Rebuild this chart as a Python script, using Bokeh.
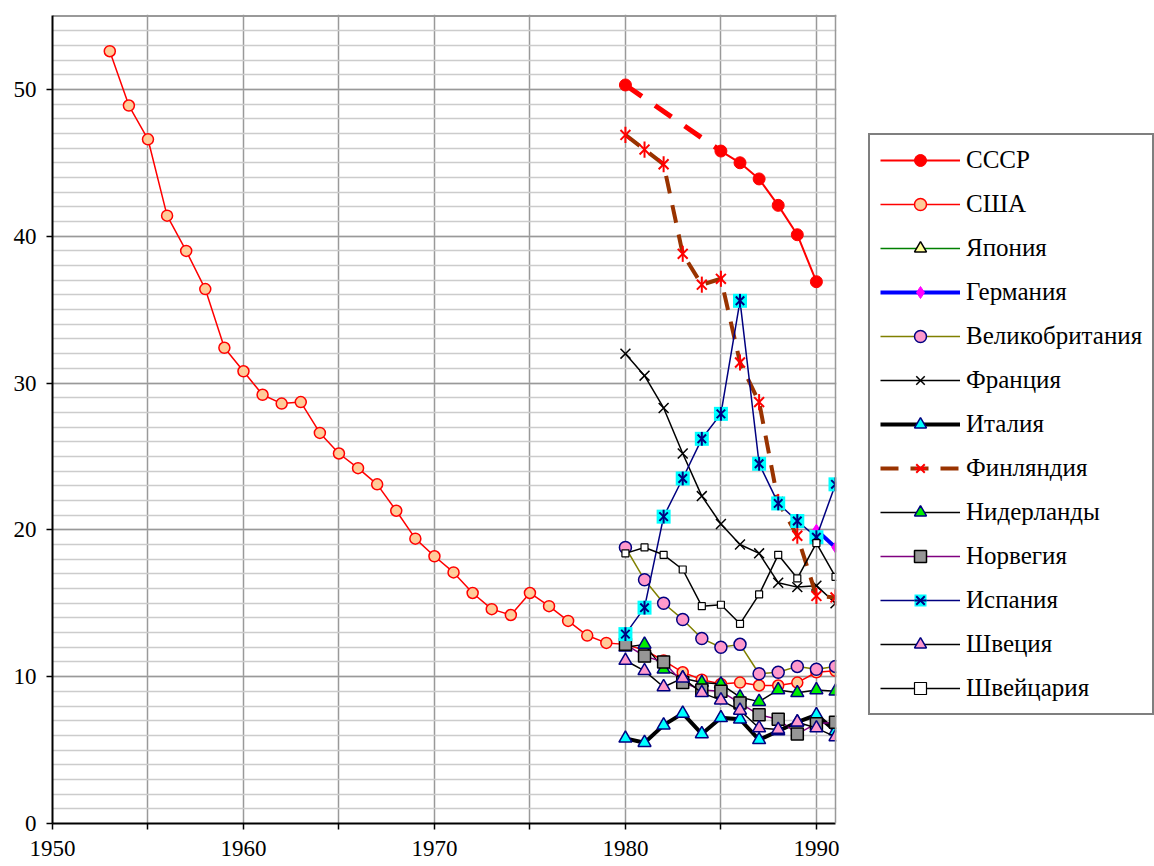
import math
from bokeh.plotting import figure
from bokeh.models import (Legend, LegendItem, FixedTicker, ColumnDataSource, Range1d,
                          BoxAnnotation, Span)
from bokeh.embed import file_html
from bokeh.resources import INLINE

# ---------------- data ----------------
years_usa = [1953, 1954, 1955, 1956, 1957, 1958, 1959, 1960, 1961, 1962, 1963, 1964,
             1965, 1966, 1967, 1968, 1969, 1970, 1971, 1972, 1973, 1974, 1975, 1976,
             1977, 1978, 1979, 1980, 1981, 1982, 1983, 1984, 1985, 1986, 1987, 1988,
             1989, 1990, 1991]
usa = [52.6, 48.9, 46.6, 41.4, 39.0, 36.4, 32.4, 30.8, 29.2, 28.6, 28.7, 26.6,
       25.2, 24.2, 23.1, 21.3, 19.4, 18.2, 17.1, 15.7, 14.6, 14.2, 15.7, 14.8,
       13.8, 12.8, 12.3, 12.2, 11.8, 11.1, 10.3, 9.8, 9.5, 9.6, 9.4, 9.4,
       9.6, 10.3, 10.4]

years_ussr = [1980, 1985, 1986, 1987, 1988, 1989, 1990]
ussr = [50.3, 45.8, 45.0, 43.9, 42.1, 40.1, 36.9]

years_80 = [1980, 1981, 1982, 1983, 1984, 1985, 1986, 1987, 1988, 1989, 1990, 1991]
japan_years = [float("nan")]   # no visible data points for Japan in the chart
japan = [float("nan")]
years_germany = [1990, 1991]
germany = [20.0, 18.8]
uk = [18.8, 16.6, 15.0, 13.9, 12.6, 12.0, 12.2, 10.2, 10.3, 10.7, 10.5, 10.7]
france = [32.0, 30.5, 28.3, 25.2, 22.3, 20.4, 19.0, 18.4, 16.4, 16.1, 16.2, 15.0]
italy = [5.8, 5.5, 6.7, 7.5, 6.1, 7.2, 7.1, 5.7, 6.3, 6.9, 7.4, 6.3]
finland = [46.9, 45.9, 44.9, 38.8, 36.7, 37.1, 31.4, 28.7, 21.9, 19.6, 15.5, 15.4]
netherlands = [12.0, 12.2, 10.5, 9.9, 9.6, 9.5, 8.6, 8.3, 9.1, 8.9, 9.1, 9.0]
norway = [12.2, 11.4, 11.0, 9.6, 9.1, 9.0, 8.2, 7.4, 7.1, 6.1, 6.8, 6.9]
spain = [12.9, 14.7, 20.9, 23.5, 26.2, 27.9, 35.6, 24.5, 21.8, 20.6, 19.5, 23.1]
sweden = [11.1, 10.4, 9.3, 9.9, 8.9, 8.4, 7.7, 6.5, 6.4, 6.9, 6.5, 5.9]
switzerland = [18.4, 18.8, 18.3, 17.3, 14.8, 14.9, 13.6, 15.6, 18.3, 16.7, 19.1, 16.8]

x_ticks = [1950, 1955, 1960, 1965, 1970, 1975, 1980, 1985, 1990]
x_labels = {1950: "1950", 1955: "", 1960: "1960", 1965: "", 1970: "1970",
            1975: "", 1980: "1980", 1985: "", 1990: "1990"}
y_ticks = [0, 10, 20, 30, 40, 50]
y_minor = list(range(0, 55))
x_start, x_end, y_end = 1950, 1991, 55

names = ["СССР", "США", "Япония", "Германия", "Великобритания", "Франция", "Италия",
         "Финляндия", "Нидерланды", "Норвегия", "Испания", "Швеция", "Швейцария"]

# ---------------- figure ----------------
FONT = "Liberation Serif"
W, H = 1154, 866
LEFT, TOP, BOTTOM = 52, 14, 43
plot_right_px = 835
px_per_year = (plot_right_px - LEFT) / (x_end - x_start)
x_view_end = x_start + (W - LEFT) / px_per_year
y_view_end = y_end + 0.1   # tiny headroom so the top border lies inside the frame

p = figure(width=W, height=H, output_backend="svg", toolbar_location=None,
           x_range=Range1d(x_start, x_view_end), y_range=Range1d(0, y_view_end),
           min_border_left=LEFT, min_border_right=0, min_border_top=TOP,
           min_border_bottom=BOTTOM)
p.background_fill_color = "white"
p.border_fill_color = "white"
p.outline_line_color = None

p.xaxis.ticker = FixedTicker(ticks=x_ticks)
p.xaxis.major_label_overrides = x_labels
p.xaxis.bounds = (x_start, x_end)
p.yaxis.ticker = FixedTicker(ticks=y_ticks, minor_ticks=y_minor)
p.yaxis.bounds = (0, y_end)
for ax in (p.xaxis, p.yaxis):
    ax.axis_line_color = "black"
    ax.axis_line_width = 2
    ax.major_tick_line_color = "black"
    ax.major_tick_line_width = 1.5
    ax.major_tick_out = 6
    ax.major_tick_in = 0
    ax.minor_tick_line_color = None
    ax.major_label_text_font = FONT
    ax.major_label_text_font_size = "23px"
    ax.major_label_text_color = "black"
p.xaxis.major_label_standoff = 11
p.yaxis.major_label_standoff = 10

p.xgrid.grid_line_color = "#999999"
p.xgrid.grid_line_width = 1.5
p.ygrid.grid_line_color = "#999999"
p.ygrid.grid_line_width = 1.5
p.ygrid.minor_grid_line_color = "#cccccc"
p.ygrid.minor_grid_line_width = 1.5

items = []

def six_star(xs, ys, color, size=14, width=2):
    a = p.scatter(xs, ys, marker="x", size=size, line_color=color, line_width=width)
    b = p.scatter(xs, ys, marker="dash", size=size * 1.15, angle=math.pi / 2,
                  line_color=color, line_width=width)
    return [a, b]

# СССР
p.line([years_ussr[0], years_ussr[1]], [ussr[0], ussr[1]], line_color="red",
       line_width=5, line_dash="20 16")
r1 = p.line(years_ussr[1:], ussr[1:], line_color="red", line_width=2)
r2 = p.scatter(years_ussr, ussr, marker="circle", size=12, fill_color="red", line_color="red")
items.append(LegendItem(label=names[0], renderers=[r1, r2]))

# США
r1 = p.line(years_usa, usa, line_color="red", line_width=1.5)
r2 = p.scatter(years_usa, usa, marker="circle", size=11, fill_color="#ffcc99",
               line_color="red", line_width=1.5)
items.append(LegendItem(label=names[1], renderers=[r1, r2]))

# Япония
src_j = ColumnDataSource(dict(x=japan_years, y=japan))
r1 = p.line("x", "y", source=src_j, line_color="#008000", line_width=1.5)
r2 = p.scatter("x", "y", source=src_j, marker="triangle", size=12, fill_color="#ffff99",
               line_color="black", line_width=1.5)
items.append(LegendItem(label=names[2], renderers=[r1, r2]))

# Германия
r1 = p.line(years_germany, germany, line_color="#0000ff", line_width=4)
r2 = p.scatter(years_germany, germany, marker="diamond", size=11, fill_color="#ff00ff",
               line_color="#ff00ff")
items.append(LegendItem(label=names[3], renderers=[r1, r2]))

# Великобритания
r1 = p.line(years_80, uk, line_color="#808000", line_width=1.5)
r2 = p.scatter(years_80, uk, marker="circle", size=12, fill_color="#ff99cc",
               line_color="#000080", line_width=1.5)
items.append(LegendItem(label=names[4], renderers=[r1, r2]))

# Франция
r1 = p.line(years_80, france, line_color="black", line_width=1.5)
r2 = p.scatter(years_80, france, marker="x", size=14, line_color="black", line_width=1.5)
items.append(LegendItem(label=names[5], renderers=[r1, r2]))

# Италия
r1 = p.line(years_80, italy, line_color="black", line_width=4)
r2 = p.scatter(years_80, italy, marker="triangle", size=13, fill_color="#00ffff",
               line_color="#000080", line_width=1.5)
items.append(LegendItem(label=names[6], renderers=[r1, r2]))

# Финляндия
r1 = p.line(years_80, finland, line_color="#993300", line_width=4, line_dash="18 12")
rs = six_star(years_80, finland, "red", size=14, width=2)
items.append(LegendItem(label=names[7], renderers=[r1] + rs))

# Нидерланды
r1 = p.line(years_80, netherlands, line_color="black", line_width=1.5)
r2 = p.scatter(years_80, netherlands, marker="triangle", size=13, fill_color="#00ee00",
               line_color="#000080", line_width=1.5)
items.append(LegendItem(label=names[8], renderers=[r1, r2]))

# Норвегия
r1 = p.line(years_80, norway, line_color="#800080", line_width=1.5)
r2 = p.scatter(years_80, norway, marker="square", size=12, fill_color="#969696",
               line_color="black", line_width=1.5)
items.append(LegendItem(label=names[9], renderers=[r1, r2]))

# Испания
r1 = p.line(years_80, spain, line_color="#000080", line_width=1.5)
r2 = p.scatter(years_80, spain, marker="square", size=14, fill_color="#00ffff",
               line_color=None)
rs = six_star(years_80, spain, "#000080", size=12, width=2)
items.append(LegendItem(label=names[10], renderers=[r1, r2] + rs))

# Швеция
r1 = p.line(years_80, sweden, line_color="black", line_width=1.5)
r2 = p.scatter(years_80, sweden, marker="triangle", size=13, fill_color="#ff99cc",
               line_color="#000080", line_width=1.5)
items.append(LegendItem(label=names[11], renderers=[r1, r2]))

# Швейцария
r1 = p.line(years_80, switzerland, line_color="black", line_width=1.5)
r2 = p.scatter(years_80, switzerland, marker="square", size=7, fill_color="white",
               line_color="black", line_width=1.2)
items.append(LegendItem(label=names[12], renderers=[r1, r2]))

# plot-area border (top, right) and blank area right of the plot
p.add_layout(Span(location=y_end, dimension="width", line_color="#999999", line_width=2,
                  level="underlay"))
p.add_layout(BoxAnnotation(left=x_end + 0.04, fill_color="white", fill_alpha=1.0,
                           line_color=None))
p.add_layout(Span(location=x_end, dimension="height", line_color="#999999", line_width=1.5))

legend = Legend(items=items, location=(868 - LEFT, (H - BOTTOM) - 715))
legend.label_text_font = FONT
legend.label_text_font_size = "25px"
legend.label_text_color = "black"
legend.glyph_width = 80
legend.glyph_height = 30
legend.label_height = 30
legend.label_standoff = 6
legend.spacing = 14
legend.padding = 10
legend.margin = 0
legend.border_line_color = "black"
legend.border_line_width = 2
legend.background_fill_color = "white"
legend.background_fill_alpha = 1.0
p.add_layout(legend)

open("out.html", "w").write(file_html(p, INLINE))
